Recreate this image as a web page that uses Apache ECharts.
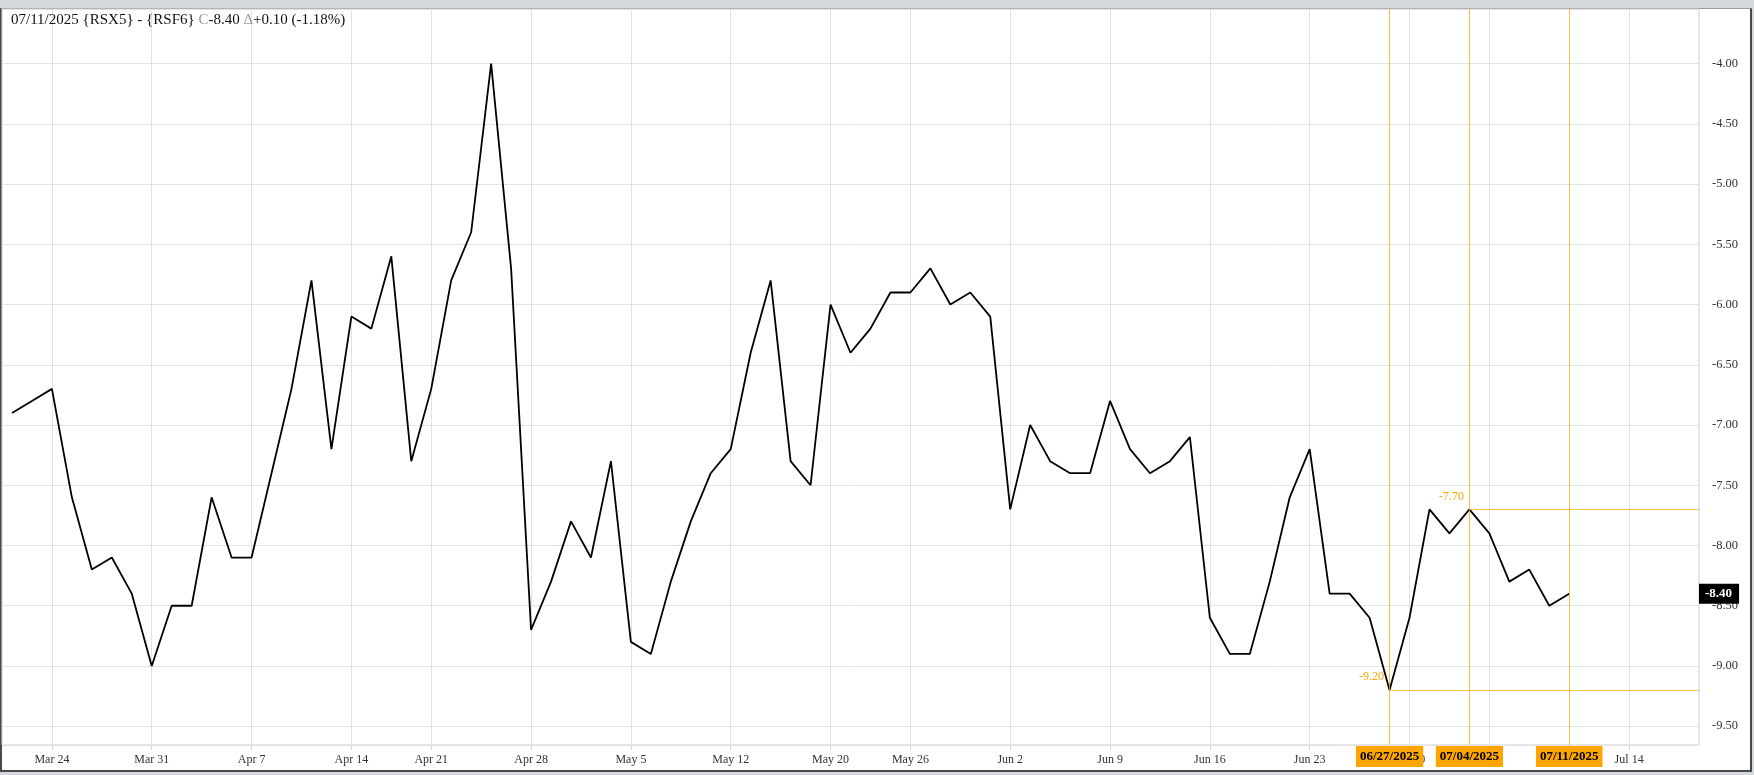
<!DOCTYPE html>
<html><head><meta charset="utf-8">
<script src="https://cdn.jsdelivr.net/npm/echarts@6/dist/echarts.min.js"></script>
<style>
html,body{margin:0;padding:0;background:#d5d9dd;width:1754px;height:775px;overflow:hidden}
#frame{position:absolute;left:0;top:8px;width:1748px;height:761px;background:#fff;border:2px solid #4a4a4a;border-top:1px solid #9a9a9a}
#chart{position:absolute;left:0;top:0;width:1754px;height:775px}
</style></head><body>
<div id="frame"></div><div id="chart"></div>
<script>
// ---- data ----
const tradingDates = [
'2025-03-20','2025-03-21','2025-03-24','2025-03-25','2025-03-26','2025-03-27','2025-03-28','2025-03-31',
'2025-04-01','2025-04-02','2025-04-03','2025-04-04','2025-04-07','2025-04-08','2025-04-09','2025-04-10','2025-04-11',
'2025-04-14','2025-04-15','2025-04-16','2025-04-17','2025-04-21','2025-04-22','2025-04-23','2025-04-24','2025-04-25',
'2025-04-28','2025-04-29','2025-04-30',
'2025-05-01','2025-05-02','2025-05-05','2025-05-06','2025-05-07','2025-05-08','2025-05-09','2025-05-12','2025-05-13',
'2025-05-14','2025-05-15','2025-05-16','2025-05-20','2025-05-21','2025-05-22','2025-05-23','2025-05-26','2025-05-27',
'2025-05-28','2025-05-29','2025-05-30',
'2025-06-02','2025-06-03','2025-06-04','2025-06-05','2025-06-06','2025-06-09','2025-06-10','2025-06-11','2025-06-12',
'2025-06-13','2025-06-16','2025-06-17','2025-06-18','2025-06-19','2025-06-20','2025-06-23','2025-06-24','2025-06-25',
'2025-06-26','2025-06-27','2025-06-30',
'2025-07-02','2025-07-03','2025-07-04','2025-07-07','2025-07-08','2025-07-09','2025-07-10','2025-07-11'
];
const spreadValues = [
-6.9,-6.8,-6.7,-7.6,-8.2,-8.1,-8.4,-9.0,
-8.5,-8.5,-7.6,-8.1,-8.1,-7.4,-6.7,-5.8,-7.2,-6.1,-6.2,-5.6,-7.3,-6.7,-5.8,-5.4,-4.0,-5.7,-8.7,-8.3,-7.8,
-8.1,-7.3,-8.8,-8.9,-8.3,-7.8,-7.4,-7.2,-6.4,-5.8,-7.3,-7.5,-6.0,-6.4,-6.2,-5.9,-5.9,-5.7,-6.0,-5.9,-6.1,
-7.7,-7.0,-7.3,-7.4,-7.4,-6.8,-7.2,-7.4,-7.3,-7.1,-8.6,-8.9,-8.9,-8.3,-7.6,-7.2,-8.4,-8.4,-8.6,-9.2,-8.6,
-7.7,-7.9,-7.7,-7.9,-8.3,-8.2,-8.5,-8.4
];
const futureDates = ['2025-07-12','2025-07-13','2025-07-14','2025-07-15','2025-07-16','2025-07-17'];
const tickDates = ['2025-03-24','2025-03-31','2025-04-07','2025-04-14','2025-04-21','2025-04-28','2025-05-05',
'2025-05-12','2025-05-20','2025-05-26','2025-06-02','2025-06-09','2025-06-16','2025-06-23','2025-06-30','2025-07-07','2025-07-14'];
const tickLabels = ['Mar 24','Mar 31','Apr 7','Apr 14','Apr 21','Apr 28','May 5',
'May 12','May 20','May 26','Jun 2','Jun 9','Jun 16','Jun 23','Jun 30','Jul 7','Jul 14'];
const markerDates = ['2025-06-27','2025-07-04','2025-07-11'];
const lowMark = ['2025-06-27', -9.2];
const highMark = ['2025-07-04', -7.7];
const lastClose = -8.40;
const headerParts = ['07/11/2025 {RSX5} - {RSF6} ', 'C', '-8.40 ', 'Δ', '+0.10 (-1.18%)'];

// ---- chart ----
const W = 1754, H = 775;
const GRID = {left: 2, right: 55, top: 9, bottom: 30};
const SERIF = '"Liberation Serif","Times New Roman",serif';
const categories = tradingDates.concat(futureDates);
const tickSet = new Set(tickDates);
const fmtMDY = d => d.slice(5,7) + '/' + d.slice(8,10) + '/' + d.slice(0,4);
const showTick = (i, v) => tickSet.has(v);

const chart = echarts.init(document.getElementById('chart'), null, {renderer: 'canvas', width: W, height: H});
const orange = '#FFA500';
const vLineData = markerDates.map(d => ({
  xAxis: d,
  lineStyle: {color: 'rgba(255,165,0,0.7)', width: 1, type: 'solid'},
  label: {show: true, position: 'start', distance: 1, formatter: fmtMDY(d),
    backgroundColor: orange, color: '#000', fontWeight: 'bold', fontFamily: SERIF, fontSize: 13,
    lineHeight: 15, padding: [3, 4, 3, 4]}
}));
const hSeg = (mk) => [
  {coord: [mk[0], mk[1]], lineStyle: {color: 'rgba(255,165,0,0.7)', width: 1, type: 'solid'}, label: {show: false}},
  {coord: [categories[categories.length - 1], mk[1]], x: W - GRID.right}
];
chart.setOption({
  animation: false,
  backgroundColor: 'transparent',
  title: {
    text: headerParts[0] + '{g|' + headerParts[1] + '}' + headerParts[2] + '{g|' + headerParts[3] + '}' + headerParts[4],
    left: 11, top: 13, padding: 0,
    textStyle: {fontFamily: SERIF, fontSize: 15, fontWeight: 'normal', color: '#111',
      rich: {g: {fontFamily: SERIF, fontSize: 15, color: '#9a9a9a'}}}
  },
  grid: {left: GRID.left, right: GRID.right, top: GRID.top, bottom: GRID.bottom, show: true,
    backgroundColor: 'transparent', borderColor: '#cfcfcf', borderWidth: 1, containLabel: false},
  xAxis: {
    type: 'category', data: categories, boundaryGap: true,
    axisLine: {show: false},
    axisTick: {show: true, interval: showTick, alignWithLabel: true, length: 5, lineStyle: {color: '#d6d6d6'}},
    splitLine: {show: true, interval: showTick, alignWithLabel: true, lineStyle: {color: '#e2e2e2', width: 1}},
    axisLabel: {interval: showTick, margin: 9, color: '#333', fontFamily: SERIF, fontSize: 12,
      formatter: v => { const k = tickDates.indexOf(v); return k >= 0 ? tickLabels[k] : ''; }}
  },
  yAxis: {
    type: 'value', position: 'right', min: -9.656, max: -3.547, minInterval: 0.5, maxInterval: 0.5, scale: true,
    axisLine: {show: false}, axisTick: {show: false},
    splitLine: {show: true, lineStyle: {color: '#e2e2e2', width: 1}},
    axisLabel: {margin: 13, color: '#333', fontFamily: SERIF, fontSize: 12.5, showMinLabel: false, showMaxLabel: false,
      formatter: v => v.toFixed(2)}
  },
  series: [{
    type: 'line', data: spreadValues, showSymbol: false, symbol: 'none',
    lineStyle: {color: '#000', width: 1.8}, z: 3, emphasis: {disabled: true},
    markLine: {
      silent: true, symbol: ['none', 'none'], animation: false,
      data: vLineData.concat([
        hSeg(lowMark), hSeg(highMark),
        {yAxis: lastClose, lineStyle: {width: 1, color: 'rgba(0,0,0,0)'},
         label: {show: true, position: 'end', distance: 0, formatter: lastClose.toFixed(2),
           backgroundColor: '#000', color: '#fff', fontWeight: 'bold', fontFamily: SERIF, fontSize: 13,
           lineHeight: 14, padding: [3, 7, 3, 6]}}
      ])
    },
    markPoint: {
      silent: true, symbol: 'circle', symbolSize: 1, itemStyle: {color: 'rgba(0,0,0,0)'},
      data: [lowMark, highMark].map(mk => ({coord: mk, value: mk[1],
        label: {show: true, position: 'left', distance: 5, offset: [0, -13], color: orange,
          fontFamily: SERIF, fontSize: 12, formatter: mk[1].toFixed(2)}}))
    }
  }]
});
</script></body></html>
